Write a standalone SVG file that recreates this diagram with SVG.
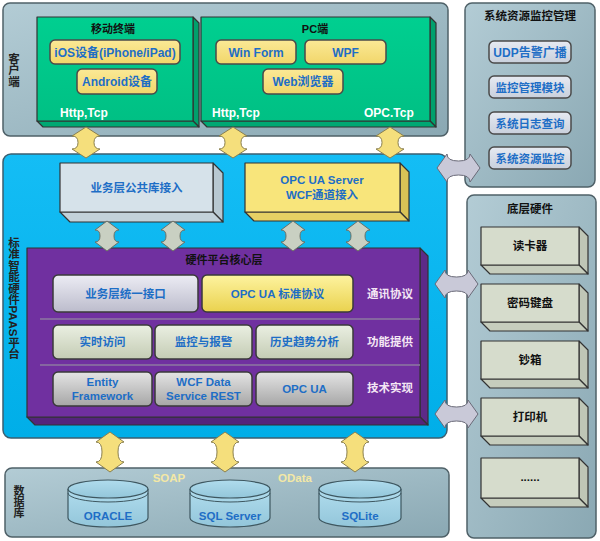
<svg xmlns="http://www.w3.org/2000/svg" width="600" height="541" viewBox="0 0 600 541">
<defs>
<linearGradient id="gPanel" x1="0" y1="0" x2="1" y2="1"><stop offset="0" stop-color="#b3ccd5"/><stop offset="1" stop-color="#8aa8b3"/></linearGradient>
<linearGradient id="gBlue" x1="0" y1="0" x2="0" y2="1"><stop offset="0" stop-color="#14bdf5"/><stop offset="1" stop-color="#00aee8"/></linearGradient>
<linearGradient id="gGreen" x1="0" y1="0" x2="0" y2="1"><stop offset="0" stop-color="#00cf90"/><stop offset="1" stop-color="#00c084"/></linearGradient>
<linearGradient id="gYel" x1="0" y1="0" x2="0" y2="1"><stop offset="0" stop-color="#fbe996"/><stop offset="1" stop-color="#f1d66a"/></linearGradient>
<linearGradient id="gMon" x1="0" y1="0" x2="0" y2="1"><stop offset="0" stop-color="#e6eaf2"/><stop offset="1" stop-color="#c9d0dc"/></linearGradient>
<linearGradient id="gR1" x1="0" y1="0" x2="0" y2="1"><stop offset="0" stop-color="#ececf4"/><stop offset="1" stop-color="#bcbccc"/></linearGradient>
<linearGradient id="gR1y" x1="0" y1="0" x2="0" y2="1"><stop offset="0" stop-color="#fdf3a0"/><stop offset="1" stop-color="#ead24e"/></linearGradient>
<linearGradient id="gR2" x1="0" y1="0" x2="0" y2="1"><stop offset="0" stop-color="#eaefe2"/><stop offset="1" stop-color="#c4ccb4"/></linearGradient>
<linearGradient id="gR3" x1="0" y1="0" x2="0" y2="1"><stop offset="0" stop-color="#e4e4e4"/><stop offset="1" stop-color="#a6a6a6"/></linearGradient>
<linearGradient id="gCyl" x1="0" y1="0" x2="0" y2="1"><stop offset="0" stop-color="#b0dced"/><stop offset="1" stop-color="#93c6da"/></linearGradient>
</defs>
<style>
.t{font-family:"Liberation Sans","Noto Sans CJK SC",sans-serif;font-weight:bold;text-anchor:middle}
.blue{fill:#1e6ec6;font-size:11.5px}
.blk{fill:#111;font-size:11px}
.wht{fill:#ffffff;font-size:12px;text-anchor:start}
.pl{fill:#f4e6f4;font-size:11.5px}
.vt{writing-mode:vertical-rl;fill:#222;font-size:11.5px}
.panel{fill:url(#gPanel);stroke:#4f6168;stroke-width:1.5}
.btnY{fill:url(#gYel);stroke:#4a4a4a;stroke-width:1.5}
.btnM{fill:url(#gMon);stroke:#4a4a4a;stroke-width:1.5}
.edge{stroke:#333;stroke-width:1.2;stroke-linejoin:round}
.boneY{fill:#f5df7c;stroke:#8a8050;stroke-width:1}
.boneG{fill:#c9d0c2;stroke:#6b7066;stroke-width:1}
.boneL{fill:#c9c9d8;stroke:#6a6a78;stroke-width:1}
.cyl{fill:url(#gCyl);stroke:#3e5760;stroke-width:1.2}
.sep{stroke:#8d78a0;stroke-width:1.5}
</style>

<g id="client">
<rect class="panel" x="3" y="3" width="445" height="133" rx="7"/>
<text class="t vt" x="13" y="70">客户端</text>
</g>

<g id="mobile">
<polygon class="edge" fill="#00a06c" points="193,17 199,23 199,127 193,121"/>
<polygon class="edge" fill="#00a873" points="37,121 193,121 199,127 43,127"/>
<rect class="edge" fill="url(#gGreen)" x="37" y="17" width="156" height="104"/>
<text class="t blk" x="113" y="33">移动终端</text>
<rect class="btnY" x="50" y="40" width="130" height="24" rx="5"/>
<text class="t blue" x="115" y="56.5" style="font-size:12px">iOS设备(iPhone/iPad)</text>
<rect class="btnY" x="77" y="69" width="80" height="25" rx="5"/>
<text class="t blue" x="117" y="86" style="font-size:12px">Android设备</text>
<text class="t wht" x="60" y="117">Http,Tcp</text>
</g>

<g id="pc">
<polygon class="edge" fill="#00a06c" points="430,17 436,23 436,127 430,121"/>
<polygon class="edge" fill="#00a873" points="201,121 430,121 436,127 207,127"/>
<rect class="edge" fill="url(#gGreen)" x="201" y="17" width="229" height="104"/>
<text class="t blk" x="315" y="33">PC端</text>
<rect class="btnY" x="216" y="40" width="80" height="24" rx="5"/>
<text class="t blue" x="256" y="56.5" style="font-size:12px">Win Form</text>
<rect class="btnY" x="305" y="40" width="81" height="24" rx="5"/>
<text class="t blue" x="345.5" y="56.5" style="font-size:12px">WPF</text>
<rect class="btnY" x="263" y="69" width="80" height="25" rx="5"/>
<text class="t blue" x="303" y="86" style="font-size:12px">Web浏览器</text>
<text class="t wht" x="212" y="117">Http,Tcp</text>
<text class="t wht" x="364" y="117">OPC.Tcp</text>
</g>

<g id="monitor">
<rect class="panel" x="465" y="3" width="130" height="184" rx="7"/>
<text class="t blk" x="530" y="20" style="font-size:11.5px">系统资源监控管理</text>
<rect class="btnM" x="489" y="41" width="82" height="22" rx="5"/>
<text class="t blue" x="530" y="56.5" style="font-size:12px">UDP告警广播</text>
<rect class="btnM" x="489" y="76" width="82" height="22" rx="5"/>
<text class="t blue" x="530" y="91.5">监控管理模块</text>
<rect class="btnM" x="489" y="112" width="82" height="22" rx="5"/>
<text class="t blue" x="530" y="127.5">系统日志查询</text>
<rect class="btnM" x="489" y="147" width="82" height="22" rx="5"/>
<text class="t blue" x="530" y="162.5">系统资源监控</text>
</g>

<g id="platform">
<rect fill="url(#gBlue)" stroke="#3b5f70" stroke-width="1.5" x="3" y="154" width="444" height="284" rx="8"/>
<text class="t vt" x="13" y="298" style="font-size:11.5px">标准智能硬件PAAS平台</text>
</g>

<g id="bizlib">
<polygon class="edge" fill="#b8c8d1" points="213,163 223,173 223,222 213,212"/>
<polygon class="edge" fill="#c3d1d9" points="60,212 213,212 223,222 70,222"/>
<rect class="edge" fill="#d6e2ea" x="60" y="163" width="153" height="49"/>
<text class="t blue" x="136.5" y="192">业务层公共库接入</text>
</g>

<g id="opcserver">
<polygon class="edge" fill="#d9c356" points="400,163 409,172 409,221 400,212"/>
<polygon class="edge" fill="#e6d064" points="245,212 400,212 409,221 254,221"/>
<rect class="edge" fill="#f8e57b" x="245" y="163" width="155" height="49"/>
<text class="t blue" x="322" y="184">OPC UA Server</text>
<text class="t blue" x="322" y="199">WCF通道接入</text>
</g>

<g id="core">
<polygon class="edge" fill="#5d2a88" points="420,248 428,256 428,425 420,417"/>
<polygon class="edge" fill="#54247c" points="27,417 420,417 428,425 35,425"/>
<rect class="edge" fill="#7030a0" x="27" y="248" width="393" height="169"/>
<text class="t blk" x="224" y="264">硬件平台核心层</text>
<line class="sep" x1="40" y1="319" x2="420" y2="319"/>
<line class="sep" x1="40" y1="365" x2="420" y2="365"/>
<rect fill="url(#gR1)" stroke="#3a3a3a" stroke-width="1.5" x="53" y="275" width="145" height="37" rx="5"/>
<text class="t blue" x="125.5" y="298">业务层统一接口</text>
<rect fill="url(#gR1y)" stroke="#3a3a3a" stroke-width="1.5" x="202" y="275" width="151" height="37" rx="5"/>
<text class="t blue" x="277.5" y="298">OPC UA 标准协议</text>
<text class="t pl" x="390" y="298">通讯协议</text>
<rect fill="url(#gR2)" stroke="#3a3a3a" stroke-width="1.5" x="53" y="325" width="99" height="34" rx="5"/>
<text class="t blue" x="102.5" y="346">实时访问</text>
<rect fill="url(#gR2)" stroke="#3a3a3a" stroke-width="1.5" x="155" y="325" width="97" height="34" rx="5"/>
<text class="t blue" x="203.5" y="346">监控与报警</text>
<rect fill="url(#gR2)" stroke="#3a3a3a" stroke-width="1.5" x="256" y="325" width="97" height="34" rx="5"/>
<text class="t blue" x="304.5" y="346">历史趋势分析</text>
<text class="t pl" x="390" y="346">功能提供</text>
<rect fill="url(#gR3)" stroke="#3a3a3a" stroke-width="1.5" x="53" y="372" width="99" height="34" rx="5"/>
<text class="t blue" x="102.5" y="386">Entity</text>
<text class="t blue" x="102.5" y="399.5">Framework</text>
<rect fill="url(#gR3)" stroke="#3a3a3a" stroke-width="1.5" x="155" y="372" width="97" height="34" rx="5"/>
<text class="t blue" x="203.5" y="386">WCF Data</text>
<text class="t blue" x="203.5" y="399.5">Service REST</text>
<rect fill="url(#gR3)" stroke="#3a3a3a" stroke-width="1.5" x="256" y="372" width="97" height="34" rx="5"/>
<text class="t blue" x="304.5" y="393">OPC UA</text>
<text class="t pl" x="390" y="392">技术实现</text>
</g>

<g id="hardware">
<rect class="panel" x="467" y="195" width="129" height="343" rx="7"/>
<text class="t blk" x="530" y="213" style="font-size:11.5px">底层硬件</text>
<g id="hw-reader">
<polygon class="edge" fill="#bfc6b6" points="579,227 588,236 588,274 579,265"/>
<polygon class="edge" fill="#c6cdbd" points="481,265 579,265 588,274 490,274"/>
<rect class="edge" fill="#d6dccc" x="481" y="227" width="98" height="38"/>
<text class="t blk" x="530" y="250" style="font-size:11.5px">读卡器</text>
</g>
<g id="hw-keypad">
<polygon class="edge" fill="#bfc6b6" points="579,284 588,293 588,331 579,322"/>
<polygon class="edge" fill="#c6cdbd" points="481,322 579,322 588,331 490,331"/>
<rect class="edge" fill="#d6dccc" x="481" y="284" width="98" height="38"/>
<text class="t blk" x="530" y="307" style="font-size:11.5px">密码键盘</text>
</g>
<g id="hw-cash">
<polygon class="edge" fill="#bfc6b6" points="579,341 588,350 588,388 579,379"/>
<polygon class="edge" fill="#c6cdbd" points="481,379 579,379 588,388 490,388"/>
<rect class="edge" fill="#d6dccc" x="481" y="341" width="98" height="38"/>
<text class="t blk" x="530" y="364" style="font-size:11.5px">钞箱</text>
</g>
<g id="hw-printer">
<polygon class="edge" fill="#bfc6b6" points="579,398 588,407 588,445 579,436"/>
<polygon class="edge" fill="#c6cdbd" points="481,436 579,436 588,445 490,445"/>
<rect class="edge" fill="#d6dccc" x="481" y="398" width="98" height="38"/>
<text class="t blk" x="530" y="421" style="font-size:11.5px">打印机</text>
</g>
<g id="hw-more">
<polygon class="edge" fill="#bfc6b6" points="579,458 588,467 588,507 579,498"/>
<polygon class="edge" fill="#c6cdbd" points="481,498 579,498 588,507 490,507"/>
<rect class="edge" fill="#d6dccc" x="481" y="458" width="98" height="40"/>
<text class="t blk" x="530" y="481" style="font-size:11.5px">......</text>
</g>
</g>

<g id="database">
<rect class="panel" x="5" y="468" width="444" height="69" rx="7"/>
<text class="t vt" x="18" y="502" style="font-size:11px">数据库</text>
<text class="t" x="169" y="482" style="font-size:11.5px;fill:#f3e8a6">SOAP</text>
<text class="t" x="295" y="482" style="font-size:11.5px;fill:#f3e8a6">OData</text>
<g id="db-oracle">
<path class="cyl" d="M68,489 L68,518 A40,9 0 0 0 148,518 L148,489"/>
<ellipse class="cyl" cx="108" cy="489" rx="40" ry="9"/>
<path fill="none" stroke="#3e5760" stroke-width="1" d="M68,493 A40,9 0 0 0 148,493"/>
<text class="t blue" x="108" y="520">ORACLE</text>
</g>
<g id="db-sqlserver">
<path class="cyl" d="M190,489 L190,518 A40,9 0 0 0 270,518 L270,489"/>
<ellipse class="cyl" cx="230" cy="489" rx="40" ry="9"/>
<path fill="none" stroke="#3e5760" stroke-width="1" d="M190,493 A40,9 0 0 0 270,493"/>
<text class="t blue" x="230" y="520">SQL Server</text>
</g>
<g id="db-sqlite">
<path class="cyl" d="M319,489 L319,518 A41,9 0 0 0 401,518 L401,489"/>
<ellipse class="cyl" cx="360" cy="489" rx="41" ry="9"/>
<path fill="none" stroke="#3e5760" stroke-width="1" d="M319,493 A41,9 0 0 0 401,493"/>
<text class="t blue" x="360" y="520">SQLite</text>
</g>
</g>

<g id="connectors">
<path class="boneY" d="M86,127 L100,136 Q94,136 94,142.5 Q94,149 100,149 L86,158 L72,149 Q78,149 78,142.5 Q78,136 72,136 Z"/>
<path class="boneY" d="M233,127 L247,136 Q241,136 241,142.5 Q241,149 247,149 L233,158 L219,149 Q225,149 225,142.5 Q225,136 219,136 Z"/>
<path class="boneY" d="M390,127 L404,136 Q398,136 398,142.5 Q398,149 404,149 L390,158 L376,149 Q382,149 382,142.5 Q382,136 376,136 Z"/>
<path class="boneG" d="M107,221 L119,230 Q114,230 114,236 Q114,242 119,242 L107,251 L95,242 Q100,242 100,236 Q100,230 95,230 Z"/>
<path class="boneG" d="M173,221 L185,230 Q180,230 180,236 Q180,242 185,242 L173,251 L161,242 Q166,242 166,236 Q166,230 161,230 Z"/>
<path class="boneG" d="M293,221 L305,230 Q300,230 300,236 Q300,242 305,242 L293,251 L281,242 Q286,242 286,236 Q286,230 281,230 Z"/>
<path class="boneG" d="M358,221 L370,230 Q365,230 365,236 Q365,242 370,242 L358,251 L346,242 Q351,242 351,236 Q351,230 346,230 Z"/>
<path class="boneY" d="M110,432 L124,442 Q118,442 118,452 Q118,462 124,462 L110,472 L96,462 Q102,462 102,452 Q102,442 96,442 Z"/>
<path class="boneY" d="M225,432 L239,442 Q233,442 233,452 Q233,462 239,462 L225,472 L211,462 Q217,462 217,452 Q217,442 211,442 Z"/>
<path class="boneY" d="M355,432 L369,442 Q363,442 363,452 Q363,462 369,462 L355,472 L341,462 Q347,462 347,452 Q347,442 341,442 Z"/>
<path class="boneL" d="M437,168 L447,154 Q447,161 458.5,161 Q470,161 470,154 L480,168 L470,182 Q470,175 458.5,175 Q447,175 447,182 Z"/>
<path class="boneL" d="M435,284 L445,270 Q445,277 456.5,277 Q468,277 468,270 L478,284 L468,298 Q468,291 456.5,291 Q445,291 445,298 Z"/>
<path class="boneL" d="M435,414 L445,400 Q445,407 456.5,407 Q468,407 468,400 L478,414 L468,428 Q468,421 456.5,421 Q445,421 445,428 Z"/>
</g>
</svg>
